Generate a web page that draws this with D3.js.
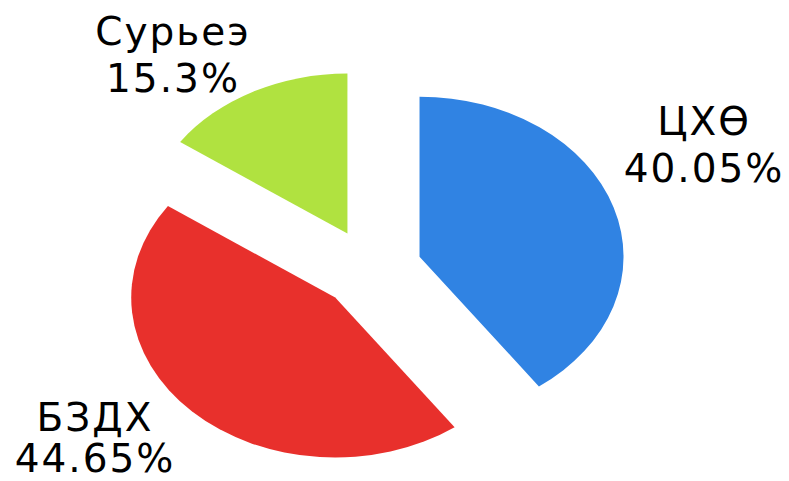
<!DOCTYPE html>
<html>
<head>
<meta charset="utf-8">
<script src="https://cdn.jsdelivr.net/npm/d3@7"></script>
<style>
  body { margin: 0; background: #fff; }
  svg { display: block; }
  .lbl { font-family: "DejaVu Sans", sans-serif; font-size: 39px; fill: #000; letter-spacing: 2px; }
</style>
</head>
<body>
<svg id="chart" width="789" height="481"></svg>
<script>
// data
const categories = ['ЦХӨ', 'БЗДХ', 'Сурьеэ'];
const shares = [40.05, 44.65, 15.3];
const shareLabels = ['40.05%', '44.65%', '15.3%'];

const colors = ['#3083e3', '#e8302c', '#b0e240'];
// where each label block sits (centre x, first baseline y, gap to second line)
const labelPos = [[704, 135, 47], [95, 431, 41], [173, 45, 47]];

const svg = d3.select('#chart');

const DIM = {
    cx: 371,
    cy: 269,
    r: 160,
    squash_x: 1.275,   // pie is drawn a bit wider than tall
    explode: 40
};

const pie = d3.pie().sort(null).value(d => d.v);
const arcs = pie(categories.map((c, i) => ({ c: c, v: shares[i], i: i })));

const arc = d3.arc().innerRadius(0).outerRadius(DIM.r);

const g = svg.append('g')
    .attr('transform', `translate(${DIM.cx}, ${DIM.cy})`);

g.selectAll('path.slice')
    .data(arcs)
    .join('path')
    .attr('class', 'slice')
    .attr('d', arc)
    .attr('fill', d => colors[d.data.i])
    .attr('transform', d => {
        let mid = (d.startAngle + d.endAngle) / 2;
        let ox = Math.sin(mid) * DIM.explode * DIM.squash_x;
        let oy = -Math.cos(mid) * DIM.explode;
        return `translate(${ox}, ${oy}) scale(${DIM.squash_x}, 1)`;
    });

// labels
const labels = svg.selectAll('text.lbl')
    .data(arcs)
    .join('text')
    .attr('class', 'lbl')
    .attr('text-anchor', 'middle')
    .attr('x', d => labelPos[d.data.i][0])
    .attr('y', d => labelPos[d.data.i][1]);

labels.append('tspan')
    .attr('x', d => labelPos[d.data.i][0])
    .text(d => d.data.c);
labels.append('tspan')
    .attr('x', d => labelPos[d.data.i][0])
    .attr('dy', d => labelPos[d.data.i][2])
    .text(d => shareLabels[d.data.i]);
</script>
</body>
</html>
